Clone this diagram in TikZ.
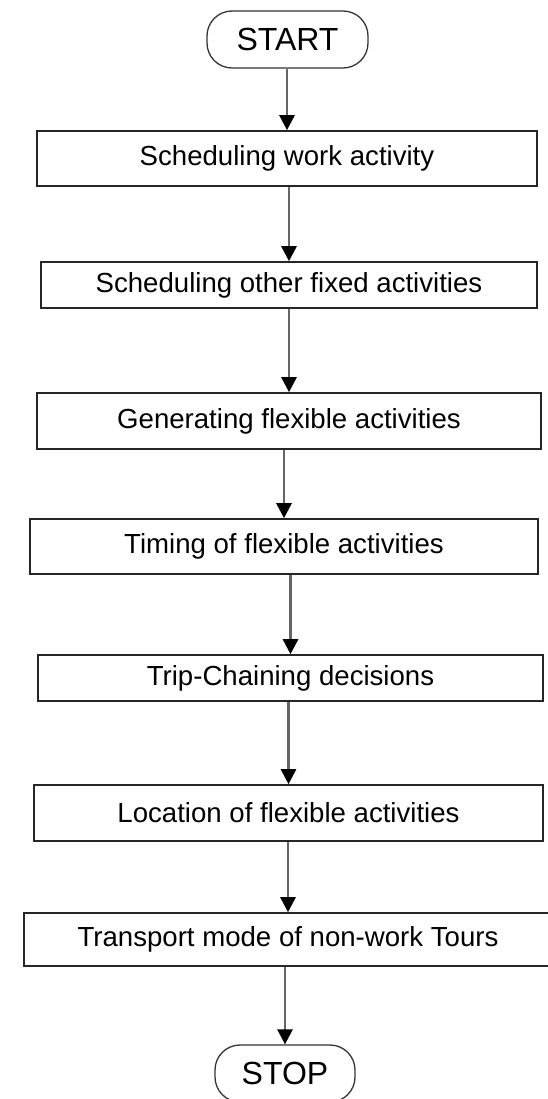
\documentclass[tikz,border=0pt]{standalone}
\usepackage{fontspec}
\setmainfont{Liberation Sans}
\usetikzlibrary{arrows.meta}

\begin{document}
\begin{tikzpicture}[
  x=1pt,
  y=-1pt,
  stepbox/.style={draw=black!85, line width=1.6pt, inner sep=0pt,
    font=\fontsize{27.6}{30}\selectfont},
  terminal/.style={draw=black!80, line width=1.3pt, rounded corners=25pt,
    inner sep=0pt, minimum height=57pt, font=\fontsize{32}{36}\selectfont},
  flow/.style={draw=black!60, line width=2.6pt,
    -{Triangle[color=black, fill=black, width=15pt, length=15pt]}}
]
  \useasboundingbox (0,0) rectangle (548,1099);

  \node[terminal, minimum width=161pt] (start) at (287.5,39.5) {START};
  \node[stepbox, minimum width=500pt, minimum height=55pt] (work) at (287,158.5)
    {Scheduling work activity};
  \node[stepbox, minimum width=496pt, minimum height=46pt] (fixed) at (289,285)
    {Scheduling other fixed activities};
  \node[stepbox, minimum width=504pt, minimum height=56pt] (generate) at (289,421)
    {Generating flexible activities};
  \node[stepbox, minimum width=508pt, minimum height=55pt] (timing) at (284,546.5)
    {Timing of flexible activities};
  \node[stepbox, minimum width=505pt, minimum height=46pt] (chain) at (290.5,678)
    {Trip-Chaining decisions};
  \node[stepbox, minimum width=509pt, minimum height=56pt] (location) at (288.5,813)
    {Location of flexible activities};
  \node[stepbox, minimum width=528pt, minimum height=53pt] (mode) at (288,939.5)
    {Transport mode of non-work Tours};
  \node[terminal, minimum width=140pt] (stop) at (285,1073.5) {STOP};

  \foreach \a/\b in {start/work, work/fixed, fixed/generate, generate/timing,
    timing/chain, chain/location, location/mode, mode/stop} {
    \draw[flow] (\b.north |- \a.south) -- (\b.north);
  }
\end{tikzpicture}
\end{document}
